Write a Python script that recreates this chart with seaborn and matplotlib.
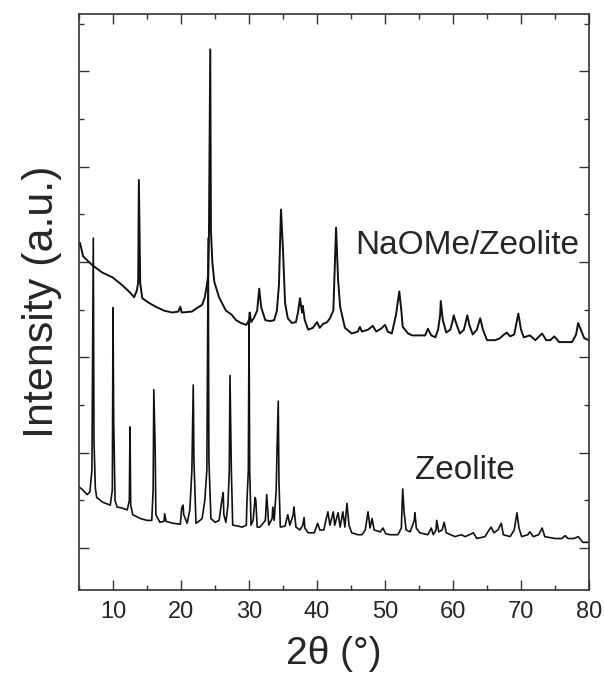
import matplotlib
matplotlib.use("Agg")
import matplotlib.pyplot as plt
from matplotlib.ticker import MultipleLocator, NullFormatter
import seaborn as sns
import pandas as pd

# XRD patterns (2-theta in degrees, intensity in arbitrary counts)
naome_2theta = [
    5.0, 5.15, 5.6, 6.9, 8.4, 9.9, 11.3, 12.5, 13.1, 13.5, 13.7, 13.8, 14.0, 14.3,
    15.3, 16.3, 17.5, 18.7, 19.6, 19.9, 20.1, 21.6, 22.4, 23.1, 23.5, 23.8, 24.0,
    24.1, 24.3, 24.4, 24.6, 24.9, 25.6, 26.6, 27.4, 28.1, 28.8, 29.6, 30.0, 30.1,
    30.3, 30.7, 31.2, 31.5, 31.8, 32.4, 33.1, 33.7, 34.1, 34.4, 34.7, 35.0, 35.3,
    35.7, 36.3, 36.9, 37.2, 37.5, 37.8, 37.9, 38.2, 38.7, 39.4, 40.0, 40.4, 40.9,
    41.5, 41.9, 42.4, 42.6, 42.8, 43.1, 43.4, 44.1, 45.1, 46.0, 46.3, 46.6, 47.5,
    48.2, 48.7, 49.4, 50.0, 50.4, 51.0, 51.6, 52.1, 52.4, 52.6, 53.4, 54.0, 55.1,
    55.9, 56.3, 56.8, 57.4, 57.8, 58.1, 58.2, 58.5, 59.0, 59.6, 59.9, 60.1, 60.4,
    61.0, 61.6, 62.1, 62.4, 62.9, 63.5, 64.0, 64.4, 65.0, 66.2, 66.9, 67.5, 67.9,
    68.4, 69.0, 69.6, 70.0, 70.4, 71.3, 72.1, 73.1, 73.7, 74.3, 74.9, 75.6, 77.5,
    78.1, 78.4, 78.8, 79.3, 80.0,
]
naome_counts = [
    4170, 4200, 4060, 3970, 3890, 3840, 3760, 3680, 3630, 3700, 3780, 4860, 3780, 3620,
    3570, 3530, 3490, 3470, 3480, 3530, 3470, 3480, 3520, 3550, 3630, 3760, 3860,
    4230, 6230, 4330, 4000, 3790, 3630, 3490, 3450, 3390, 3360, 3340, 3390, 3470,
    3370, 3410, 3490, 3720, 3520, 3390, 3380, 3390, 3490, 3760, 4550, 4120, 3570,
    3410, 3360, 3370, 3470, 3620, 3470, 3540, 3390, 3290, 3310, 3370, 3310, 3350,
    3370, 3410, 3490, 3910, 4360, 3810, 3530, 3310, 3250, 3270, 3320, 3270, 3290,
    3330, 3270, 3300, 3340, 3270, 3250, 3440, 3690, 3490, 3320, 3250, 3230, 3230,
    3230, 3300, 3230, 3210, 3290, 3440, 3590, 3390, 3260, 3290, 3370, 3440, 3370,
    3250, 3290, 3440, 3340, 3240, 3290, 3410, 3290, 3180, 3180, 3200, 3240, 3260,
    3220, 3240, 3460, 3290, 3210, 3230, 3180, 3250, 3180, 3180, 3220, 3160, 3160,
    3240, 3360, 3290, 3200, 3180,
]

zeolite_2theta = [
    5.0, 5.4, 6.2, 6.6, 6.9, 7.1, 7.2, 7.4, 7.6, 8.5, 9.6, 9.9, 10.0, 10.1, 10.3,
    10.6, 11.3, 12.1, 12.4, 12.5, 12.6, 12.9, 14.0, 15.0, 15.7, 15.9, 16.0, 16.2,
    16.3, 16.9, 17.5, 17.6, 17.8, 18.8, 19.9, 20.1, 20.3, 20.4, 20.9, 21.3, 21.6,
    21.8, 21.9, 22.2, 22.8, 23.1, 23.5, 23.8, 24.0, 24.1, 24.4, 25.0, 25.6, 26.0,
    26.2, 26.3, 26.6, 26.9, 27.1, 27.2, 27.4, 27.6, 28.4, 29.0, 29.6, 29.7, 29.9,
    30.0, 30.1, 30.3, 30.6, 30.9, 31.0, 31.2, 31.6, 32.4, 32.6, 32.9, 33.4, 33.5,
    33.7, 34.0, 34.1, 34.3, 34.4, 34.6, 35.3, 35.7, 36.0, 36.5, 36.6, 36.9, 37.5,
    37.9, 38.1, 38.2, 38.7, 39.6, 40.0, 40.1, 40.4, 41.0, 41.3, 41.6, 41.9, 42.4,
    42.6, 43.1, 43.4, 43.8, 44.1, 44.4, 44.7, 45.1, 46.0, 46.6, 47.1, 47.5, 47.8,
    48.1, 48.4, 49.3, 49.7, 50.1, 50.7, 51.9, 52.4, 52.5, 52.6, 52.8, 53.1, 53.7,
    54.3, 54.4, 54.6, 55.1, 56.3, 56.8, 57.1, 57.5, 57.6, 57.9, 58.4, 58.7, 59.0,
    60.3, 61.2, 61.8, 63.0, 63.5, 64.7, 65.3, 65.6, 66.0, 66.6, 67.1, 67.4, 68.4,
    69.0, 69.4, 69.7, 70.1, 71.0, 71.3, 71.8, 72.6, 73.1, 73.5, 75.0, 76.0, 76.5,
    76.9, 77.8, 78.4, 79.1, 80.0,
]
zeolite_counts = [
    1640, 1620, 1560, 1590, 1820, 4250, 2130, 1630, 1530, 1480, 1450, 1610, 3520, 2340, 1500,
    1430, 1420, 1400, 1500, 2270, 1450, 1350, 1310, 1290, 1290, 1610, 2660, 2030,
    1350, 1270, 1280, 1360, 1280, 1260, 1250, 1420, 1450, 1350, 1260, 1400, 1820,
    2710, 1920, 1260, 1290, 1310, 1500, 1820, 4250, 1920, 1310, 1270, 1290, 1500,
    1580, 1350, 1270, 1450, 1820, 2810, 1820, 1240, 1230, 1220, 1240, 1500, 1820,
    3370, 1820, 1240, 1290, 1530, 1500, 1220, 1220, 1290, 1560, 1240, 1310, 1430,
    1290, 1610, 1970, 2540, 1710, 1220, 1230, 1350, 1240, 1350, 1430, 1220, 1190,
    1240, 1320, 1210, 1160, 1160, 1240, 1260, 1190, 1190, 1290, 1380, 1240, 1380,
    1240, 1370, 1220, 1380, 1220, 1470, 1240, 1160, 1140, 1140, 1190, 1380, 1210,
    1310, 1190, 1170, 1210, 1150, 1140, 1140, 1210, 1400, 1620, 1380, 1190, 1170,
    1290, 1370, 1210, 1160, 1140, 1210, 1140, 1190, 1290, 1170, 1190, 1270, 1160,
    1120, 1140, 1120, 1160, 1100, 1120, 1190, 1220, 1160, 1190, 1260, 1140, 1120,
    1190, 1370, 1210, 1120, 1140, 1170, 1120, 1140, 1210, 1120, 1100, 1100, 1130,
    1100, 1100, 1120, 1060, 1060,
]

sample_labels = ["NaOMe/Zeolite", "Zeolite"]

sns.set_style("ticks")
plt.rcParams["font.family"] = ["Liberation Sans", "DejaVu Sans"]

fig = plt.figure(figsize=(6.05, 6.75), dpi=100)
ax = fig.add_axes([0.1306, 0.1259, 0.8430, 0.8533])

df_naome = pd.DataFrame({"two_theta": naome_2theta, "counts": naome_counts})
df_zeo = pd.DataFrame({"two_theta": zeolite_2theta, "counts": zeolite_counts})

sns.lineplot(data=df_zeo, x="two_theta", y="counts", ax=ax, color="#111111",
             linewidth=1.2, estimator=None, sort=False)
sns.lineplot(data=df_naome, x="two_theta", y="counts", ax=ax, color="#111111",
             linewidth=1.4, estimator=None, sort=False)

ax.set_xlim(5, 80)
ax.set_ylim(560, 6600)

ax.xaxis.set_major_locator(MultipleLocator(10))
ax.xaxis.set_minor_locator(MultipleLocator(5))
ax.yaxis.set_major_locator(MultipleLocator(1000))
ax.yaxis.set_minor_locator(MultipleLocator(500))
ax.yaxis.set_major_formatter(NullFormatter())

ax.tick_params(which="both", direction="in", top=True, right=True,
               color="#333333", width=1.0)
ax.tick_params(which="major", length=7)
ax.tick_params(which="minor", length=3.5)
ax.tick_params(axis="x", which="major", labelsize=17, pad=8)

for side in ax.spines.values():
    side.set_color("#333333")
    side.set_linewidth(1.2)

ax.set_xlabel("2θ (°)", fontsize=28, labelpad=9)
ax.set_ylabel("Intensity (a.u.)", fontsize=31, labelpad=9)

ax.text(45.6, 4175, sample_labels[0], fontsize=24, ha="left", va="center")
ax.text(54.4, 1817, sample_labels[1], fontsize=24, ha="left", va="center")

fig.savefig("out.png", dpi=100)
